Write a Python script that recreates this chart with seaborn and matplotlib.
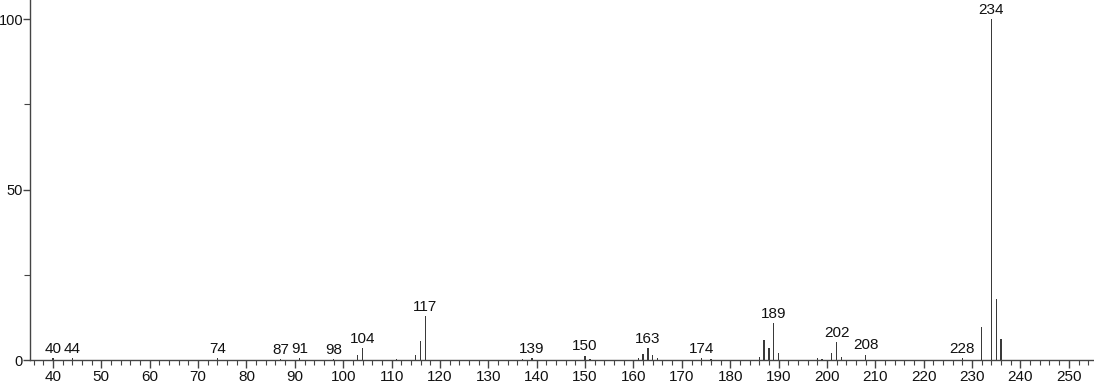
import matplotlib
matplotlib.use("Agg")
import matplotlib.pyplot as plt
from matplotlib.ticker import MultipleLocator
import seaborn as sns
import pandas as pd

# m/z values and relative intensities
mz = [40, 44, 74, 87, 91, 98, 103, 104, 111, 115, 116, 117, 137, 139, 150, 151,
      161, 162, 163, 164, 165, 174, 176, 186, 187, 188, 189, 190, 198, 199,
      201, 202, 203, 208, 228, 232, 234, 235, 236]
intensity = [0.6, 0.5, 0.5, 0.4, 0.5, 0.4, 1.5, 3.6, 0.3, 1.5, 5.6, 13.0, 0.3, 0.5, 1.3, 0.4,
             0.7, 1.8, 3.5, 1.5, 0.5, 0.6, 0.4, 1.0, 5.9, 3.5, 10.9, 2.0, 0.6, 0.4,
             2.0, 5.4, 0.8, 1.6, 0.5, 9.7, 100.0, 18.0, 6.2]
labelled = [40, 44, 74, 87, 91, 98, 104, 117, 139, 150, 163, 174, 189, 202, 208, 228, 234]

df = pd.DataFrame({"mz": mz, "intensity": intensity})

sns.set_style("white")
plt.rcParams["font.family"] = ["Liberation Sans", "DejaVu Sans"]

fig = plt.figure(figsize=(10.94, 3.84), dpi=100)
ax = fig.add_axes([0.0274, 0.0625, 0.9726, 0.9375])

sns.histplot(data=df, x="mz", weights="intensity", discrete=True, shrink=0.28,
             color="#3a3a3a", edgecolor="none", linewidth=0, alpha=1, ax=ax)

lookup = dict(zip(mz, intensity))
for m in labelled:
    ax.annotate(str(m), xy=(m, lookup[m]), xytext=(0, 1.5), textcoords="offset points",
                ha="center", va="bottom", fontsize=11, color="#111111")

ax.set_xlim(35.25, 255.2)
ax.set_ylim(0, 105.6)
ax.xaxis.set_major_locator(MultipleLocator(10))
ax.xaxis.set_minor_locator(MultipleLocator(2))
ax.yaxis.set_major_locator(MultipleLocator(50))
ax.yaxis.set_minor_locator(MultipleLocator(25))
ax.set_xlim(35.25, 255.2)
ax.tick_params(axis="x", which="major", bottom=True, direction="out", length=6, width=1, pad=1.5,
               labelsize=11, colors="#444444", labelcolor="#111111")
ax.tick_params(axis="x", which="minor", bottom=True, direction="out", length=3.5, width=0.8,
               colors="#444444")
ax.tick_params(axis="y", which="major", left=True, direction="out", length=5, width=1, pad=0,
               labelsize=10.5, colors="#444444", labelcolor="#111111")
ax.tick_params(axis="y", which="minor", left=True, direction="out", length=4, width=0.8,
               colors="#444444")
for s in ["top", "right"]:
    ax.spines[s].set_visible(False)
for s in ["left", "bottom"]:
    ax.spines[s].set_color("#444444")
    ax.spines[s].set_linewidth(1)
ax.set_xlabel("")
ax.set_ylabel("")

fig.savefig("out.png", dpi=100)
